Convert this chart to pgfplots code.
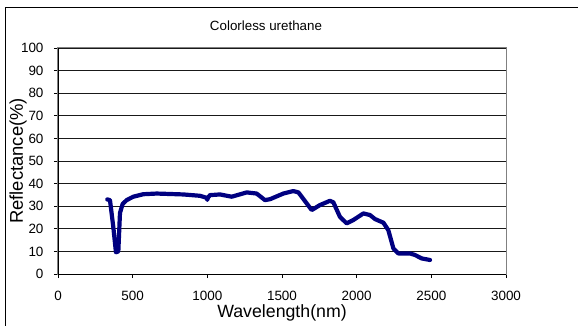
\documentclass[border=0pt]{standalone}
\usepackage{fontspec}
\setmainfont{Liberation Sans}
\usepackage{pgfplots}
\pgfplotsset{compat=1.18}
\begin{document}
\begin{tikzpicture}
\useasboundingbox (0,0) rectangle (578bp,326bp);
\draw[black, line width=0.8bp] (5bp,0bp) -- (5bp,319bp) -- (578bp,319bp);
\begin{axis}[
  at={(58bp,52bp)}, anchor=origin,
  scale only axis, width=448bp, height=226bp,
  xmin=0, xmax=3000, ymin=0, ymax=100,
  xtick={0,500,...,3000}, ytick={0,10,...,100},
  tick align=outside, tick pos=left, major tick length=4bp,
  /pgf/number format/1000 sep={},
  /pgf/number format/assume math mode=true,
  ticklabel style={font=\fontsize{13.5}{14}\selectfont},
  xticklabel shift=10bp, yticklabel shift=7bp,
  ymajorgrids, grid style={gray!20!black, line width=0.7bp},
  axis line style={gray, line width=1bp},
  tick style={black, line width=0.7bp},
  clip=false,
]
\addplot[color={rgb,255:red,0;green,0;blue,128}, line width=4.2bp, line join=round, line cap=round] coordinates {
(330,33.0) (348,32.7) (370,21) (388,9.6) (404,10) (415,27) (433,31) (460,32.7) (504,34.2) (571,35.3) (661,35.6) (839,35.2) (951,34.6) (996,33.7) (1000,32.8) (1004,33.8) (1018,34.9) (1085,35.2) (1163,34.2) (1264,36.1) (1330,35.6) (1386,32.7) (1420,33.1) (1509,35.6) (1576,36.7) (1610,36.1) (1699,28.3) (1754,30.5) (1821,32.4) (1844,31.7) (1888,25.3) (1933,22.4) (1978,23.9) (2045,26.8) (2089,26.1) (2123,24.3) (2179,22.7) (2212,19.4) (2246,11.3) (2279,9.1) (2357,9.1) (2391,8.4) (2435,6.9) (2491,6.2)
};
\draw[black, line width=0.8bp] (rel axis cs:0,0) -- (rel axis cs:0,1);
\draw[black, line width=0.8bp] (rel axis cs:0,0) -- (rel axis cs:1,0);
\end{axis}
\node[font=\fontsize{13.4}{14}\selectfont] at (266bp,300bp) {Colorless urethane};
\node[font=\fontsize{17.8}{18}\selectfont] at (282bp,13bp) {Wavelength(nm)};
\node[font=\fontsize{18.5}{19}\selectfont, rotate=90] at (18bp,165bp) {Reflectance(\%)};
\end{tikzpicture}
\end{document}
